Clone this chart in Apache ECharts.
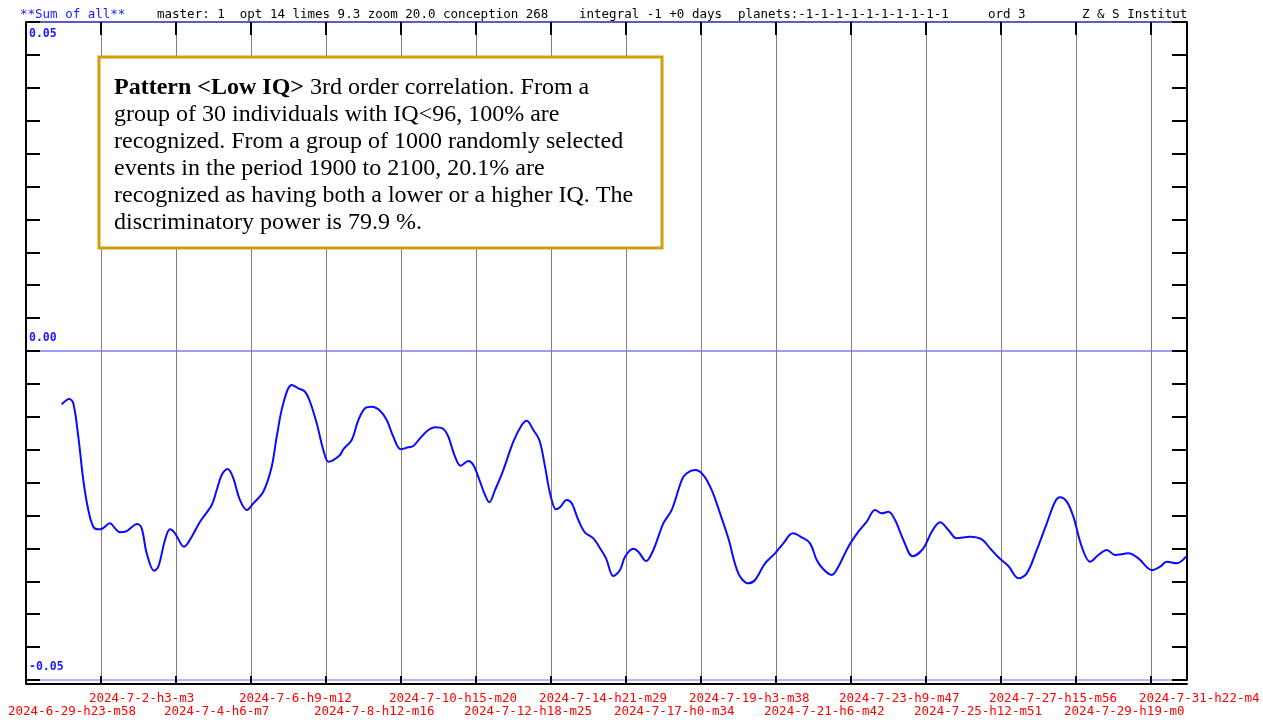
<!DOCTYPE html>
<html><head><meta charset="utf-8">
<script src="https://cdn.jsdelivr.net/npm/echarts@6/dist/echarts.min.js"></script>
<style>html,body{margin:0;padding:0;background:#fff}#c{width:1263px;height:720px}</style>
</head><body><div id="c"></div>
<script>
// ---- data ----
const xTickLabels = [
  '2024-6-29-h23-m58','2024-7-2-h3-m3','2024-7-4-h6-m7','2024-7-6-h9-m12',
  '2024-7-8-h12-m16','2024-7-10-h15-m20','2024-7-12-h18-m25','2024-7-14-h21-m29',
  '2024-7-17-h0-m34','2024-7-19-h3-m38','2024-7-21-h6-m42','2024-7-23-h9-m47',
  '2024-7-25-h12-m51','2024-7-27-h15-m56','2024-7-29-h19-m0','2024-7-31-h22-m4'
];
const yTickValues = [-0.05, 0, 0.05];
const yTickLabels = ['-0.05', '0.00', '0.05'];
// days since 2024-6-29 23:58
const dayOffsets = [
  1.013,1.229,1.342,1.484,1.626,1.768,1.910,2.051,2.148,2.383,2.525,2.667,2.857,3.158,3.283,3.425,3.632,3.754,3.944,4.086,
  4.228,4.483,4.702,4.937,5.269,5.411,5.553,5.723,5.865,6.072,6.262,6.449,6.733,6.971,7.113,7.301,7.539,7.726,7.916,8.058,
  8.248,8.436,8.578,8.719,8.909,9.003,9.241,9.429,9.619,9.809,10.044,10.235,10.422,10.632,10.847,10.989,11.179,11.415,11.605,11.841,
  11.982,12.172,12.334,12.550,12.692,12.882,13.024,13.146,13.307,13.543,13.827,14.065,14.207,14.394,14.565,14.726,14.868,15.038,15.152,15.342,
  15.484,15.671,15.861,16.097,16.287,16.457,16.664,16.854,16.996,17.232,17.373,17.592,17.799,18.083,18.321,18.605,18.746,18.982,19.218,19.456,
  19.692,19.927,20.211,20.495,20.685,20.968,21.252,21.488,21.754,22.010,22.245,22.435,22.623,22.861,23.048,23.332,23.616,23.854,24.090,24.280,
  24.467,24.657,24.893,25.159,25.460,25.698,25.934,26.170,26.408,26.785,27.117,27.353,27.589,27.872,28.156,28.394,28.678,28.962,29.197,29.339,
  29.529,29.716,29.954,30.190,30.426,30.664,30.899,31.277,31.561,31.941,32.176,32.367,32.650,32.914
];
const sumValues = [
  -0.00810,-0.00730,-0.00795,-0.01302,-0.01961,-0.02416,-0.02670,-0.02710,-0.02705,-0.02619,-0.02695,-0.02755,-0.02736,-0.02629,-0.02695,-0.03075,-0.03339,-0.03278,-0.02872,-0.02710,
  -0.02771,-0.02974,-0.02822,-0.02594,-0.02340,-0.02113,-0.01885,-0.01793,-0.01910,-0.02265,-0.02416,-0.02315,-0.02138,-0.01758,-0.01302,-0.00795,-0.00517,-0.00567,-0.00619,-0.00771,
  -0.01099,-0.01505,-0.01682,-0.01657,-0.01581,-0.01494,-0.01353,-0.01049,-0.00871,-0.00847,-0.00907,-0.01049,-0.01302,-0.01494,-0.01464,-0.01444,-0.01327,-0.01201,-0.01160,-0.01185,
  -0.01302,-0.01606,-0.01743,-0.01672,-0.01733,-0.01986,-0.02189,-0.02299,-0.02113,-0.01809,-0.01378,-0.01125,-0.01059,-0.01201,-0.01353,-0.01758,-0.02163,-0.02406,-0.02375,-0.02265,
  -0.02315,-0.02568,-0.02761,-0.02847,-0.02999,-0.03151,-0.03420,-0.03328,-0.03126,-0.03005,-0.03050,-0.03192,-0.03024,-0.02619,-0.02416,-0.01961,-0.01859,-0.01809,-0.01885,-0.02113,
  -0.02467,-0.02847,-0.03379,-0.03530,-0.03480,-0.03227,-0.03075,-0.02923,-0.02771,-0.02831,-0.02923,-0.03176,-0.03318,-0.03404,-0.03278,-0.02974,-0.02746,-0.02594,-0.02416,-0.02467,
  -0.02442,-0.02568,-0.02872,-0.03120,-0.02999,-0.02746,-0.02603,-0.02720,-0.02847,-0.02822,-0.02862,-0.02999,-0.03135,-0.03268,-0.03454,-0.03379,-0.03024,-0.02619,-0.02290,-0.02223,
  -0.02290,-0.02518,-0.02974,-0.03202,-0.03100,-0.03024,-0.03100,-0.03075,-0.03151,-0.03328,-0.03278,-0.03202,-0.03227,-0.03126
];
const headerParts = [
  {text:'**Sum of all**', color:'#1a1aff', x:20},
  {text:'master: 1  opt 14 limes 9.3 zoom 20.0 conception 268', color:'#000', x:157},
  {text:'integral -1 +0 days', color:'#000', x:579},
  {text:'planets:-1-1-1-1-1-1-1-1-1-1', color:'#000', x:738},
  {text:'ord 3', color:'#000', x:988},
  {text:'Z & S Institut', color:'#000', x:1082}
];
const noteLines = [
  '{b|Pattern <Low IQ>} 3rd order correlation. From a',
  'group of 30 individuals with IQ<96, 100% are',
  'recognized. From a group of 1000 randomly selected',
  'events in the period 1900 to 2100, 20.1% are',
  'recognized as having both a lower or a higher IQ. The',
  'discriminatory power is 79.9 %.'
];

// ---- chart ----
const TICK = 45966 / 15 / 1440;  // days between labelled grid lines
const X_MAX = 32.94;
const MONO = 'DejaVu Sans Mono';

function xLabelRow(parity) {
  return function (v) {
    const k = Math.round(v / TICK);
    if (Math.abs(v - k * TICK) > 1e-3 || k < 0 || k >= xTickLabels.length) return '';
    if (k % 2 !== parity) return '';
    return k === 0 ? '{f|' + xTickLabels[k] + '}' : xTickLabels[k];
  };
}
function yIdx(v) { return yTickValues.findIndex(t => Math.abs(t - v) < 1e-6); }

const xBase = {type:'value', min:0, max:X_MAX, interval:TICK};
const xLabelStyle = {color:'#ff0000', fontFamily:MONO, fontSize:12.5, showMinLabel:true, showMaxLabel:false,
                     align:'left', padding:[0,0,0,-12],
                     rich:{f:{color:'#ff0000', fontFamily:MONO, fontSize:12.5, padding:[0,0,0,-6]}}};

const chart = echarts.init(document.getElementById('c'));
const yBase = {type:'value', min:-0.05, max:0.05, interval:0.05};
chart.setOption({
  animation:false,
  backgroundColor:'#fff',
  grid:{left:26, right:76, top:22, bottom:40, containLabel:false},
  xAxis:[
    Object.assign({}, xBase, {position:'bottom', offset:4,
     axisLine:{onZero:false, lineStyle:{color:'#000', width:2}},
     axisTick:{inside:true, length:8, lineStyle:{color:'#000', width:2}},
     splitLine:{show:true, lineStyle:{color:'#808080', width:1}},
     axisLabel:Object.assign({}, xLabelStyle, {margin:8, formatter:xLabelRow(1)})}),
    Object.assign({}, xBase, {position:'bottom', offset:4,
     axisLine:{show:false, onZero:false}, axisTick:{show:false}, splitLine:{show:false},
     axisLabel:Object.assign({}, xLabelStyle, {margin:21, formatter:xLabelRow(0)})}),
    Object.assign({}, xBase, {position:'top',
     axisLine:{onZero:false, lineStyle:{color:'#5c5cc8', width:2}},
     axisTick:{inside:true, length:13, lineStyle:{color:'#000', width:2}},
     splitLine:{show:false}, axisLabel:{show:false}})
  ],
  yAxis:[
    Object.assign({}, yBase, {position:'left',
      axisLine:{show:true, onZero:false, lineStyle:{color:'#000', width:2}},
      axisTick:{show:true, inside:true, length:14, lineStyle:{color:'#000', width:2}},
      minorTick:{show:true, splitNumber:10, length:14, lineStyle:{color:'#000', width:2}},
      splitLine:{show:true, lineStyle:{color:['#a0a0ff','#7878ff','#5c5cc8'], width:1.5}},
      axisLabel:{inside:true, margin:3, verticalAlign:'bottom', padding:[0,0,7,0], color:'#1a1aff',
                 fontFamily:MONO, fontSize:11.5, fontWeight:'bold',
                 formatter:v => { const i = yIdx(v); return (i < 0 || v > 0.04) ? '' : yTickLabels[i]; }}}),
    Object.assign({}, yBase, {position:'left',
      axisLine:{show:false, onZero:false}, axisTick:{show:false}, splitLine:{show:false},
      axisLabel:{inside:true, margin:3, verticalAlign:'top', padding:[6,0,0,0], color:'#1a1aff',
                 fontFamily:MONO, fontSize:11.5, fontWeight:'bold',
                 formatter:v => { const i = yIdx(v); return (i < 0 || v < 0.04) ? '' : yTickLabels[i]; }}}),
    Object.assign({}, yBase, {position:'right',
      axisLine:{show:true, onZero:false, lineStyle:{color:'#000', width:2}},
      axisTick:{show:true, inside:true, length:15, lineStyle:{color:'#000', width:2}},
      minorTick:{show:true, splitNumber:10, length:15, lineStyle:{color:'#000', width:2}},
      splitLine:{show:false}, axisLabel:{show:false}})
  ],
  series:[{
    type:'line', xAxisIndex:0, yAxisIndex:0,
    data: dayOffsets.map((d, i) => [d, sumValues[i]]),
    showSymbol:false, smooth:0.35,
    lineStyle:{color:'#0a0aff', width:2}
  }],
  graphic: headerParts.map(h => ({
    type:'text', x:h.x, y:8,
    style:{text:h.text, fill:h.color, fontFamily:MONO, fontSize:12.5, verticalAlign:'top'}
  })).concat([
    {type:'rect', shape:{x:99, y:57, width:563, height:191},
     style:{fill:'#fff', stroke:'#d19e0b', lineWidth:3}, z:100},
    {type:'text', x:114, y:74, z:101,
     style:{text:noteLines.join('\n'), fill:'#000', fontFamily:'Liberation Serif', fontSize:24,
            lineHeight:27, verticalAlign:'top',
            rich:{b:{fontFamily:'Liberation Serif', fontSize:24, fontWeight:'bold', lineHeight:27, fill:'#000'}}}}
  ])
});
</script></body></html>
